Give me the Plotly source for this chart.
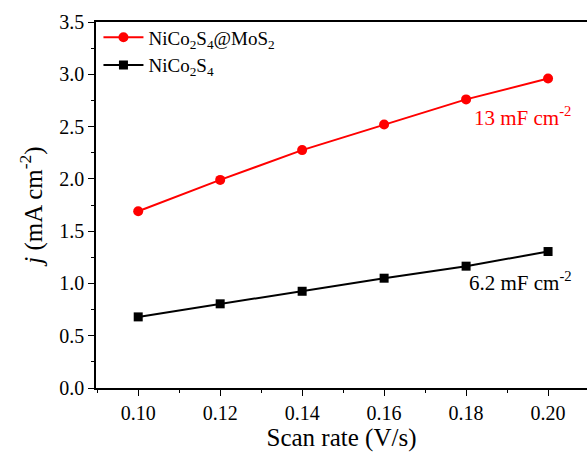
import plotly.graph_objects as go

scan_rate = [0.10, 0.12, 0.14, 0.16, 0.18, 0.20]
j_composite = [1.69, 1.99, 2.275, 2.52, 2.76, 2.96]
j_nico = [0.68, 0.805, 0.925, 1.05, 1.165, 1.305]
name_composite = "NiCo<sub>2</sub>S<sub>4</sub>@MoS<sub>2</sub>"
name_nico = "NiCo<sub>2</sub>S<sub>4</sub>"
label_composite = "13 mF cm<sup>-2</sup>"
label_nico = "6.2 mF cm<sup>-2</sup>"

FONT = "Liberation Serif"

fig = go.Figure()
fig.add_trace(go.Scatter(x=scan_rate, y=j_composite, name=name_composite, mode="lines+markers",
                         line=dict(color="#ff0000", width=2),
                         marker=dict(symbol="circle", size=10, color="#ff0000")))
fig.add_trace(go.Scatter(x=scan_rate, y=j_nico, name=name_nico, mode="lines+markers",
                         line=dict(color="#000000", width=2),
                         marker=dict(symbol="square", size=9, color="#000000")))

fig.add_annotation(x=0.1815, y=2.60, xref="x", yref="y", text=label_composite, showarrow=False,
                   font=dict(family=FONT, size=21, color="#ff0000"), xanchor="left")
fig.add_annotation(x=0.1802, y=1.02, xref="x", yref="y", text=label_nico, showarrow=False,
                   font=dict(family=FONT, size=21, color="#000000"), xanchor="left")

fig.update_layout(
    width=587, height=457,
    margin=dict(l=96, r=0, t=22, b=69),
    plot_bgcolor="white", paper_bgcolor="white",
    font=dict(family=FONT, color="black"),
    showlegend=True,
    legend=dict(x=0.005, y=1.01, xanchor="left", yanchor="top", bgcolor="rgba(0,0,0,0)",
                font=dict(family=FONT, size=19), tracegroupgap=0, itemwidth=40),
    xaxis=dict(range=[0.0897, 0.2095], tickvals=[0.10, 0.12, 0.14, 0.16, 0.18, 0.20],
               ticktext=["0.10", "0.12", "0.14", "0.16", "0.18", "0.20"],
               ticks="outside", ticklen=6, tickwidth=1, tickcolor="black",
               minor=dict(dtick=0.01, tick0=0.0, ticks="outside", ticklen=3, tickcolor="black"),
               showline=True, linecolor="black", linewidth=1.5, mirror=True,
               showgrid=False, zeroline=False,
               tickfont=dict(family=FONT, size=20),
               title=dict(text="Scan rate (V/s)", font=dict(family=FONT, size=25), standoff=6)),
    yaxis=dict(range=[0, 3.5], dtick=0.5, tickformat=".1f",
               ticks="outside", ticklen=6, tickwidth=1, tickcolor="black",
               minor=dict(dtick=0.25, ticks="outside", ticklen=3, tickcolor="black"),
               showline=True, linecolor="black", linewidth=1.5,
               showgrid=False, zeroline=False,
               tickfont=dict(family=FONT, size=20),
               title=dict(text="<i>j</i> (mA cm<sup>-2</sup>)", font=dict(family=FONT, size=25), standoff=10)),
)

fig.write_html("out.html", config={"displayModeBar": False},
               post_script="document.body.style.margin='0';document.body.style.overflow='hidden';")
